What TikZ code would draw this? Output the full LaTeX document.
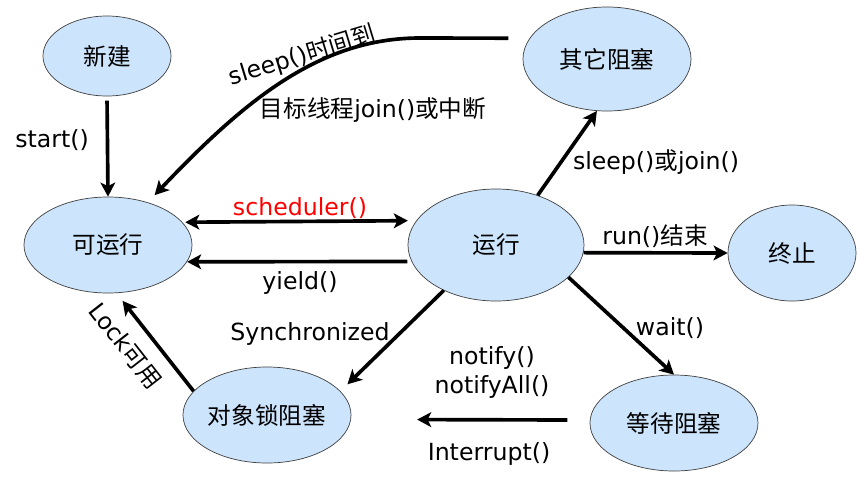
\documentclass[tikz,border=0pt]{standalone}
\usepackage{fontspec}
\setmainfont{DejaVu Sans}
\newfontfamily\cjk{Noto Sans CJK SC}
\usetikzlibrary{arrows.meta,shapes.geometric}
\def\zh#1{{\cjk #1}}
\definecolor{stateblue}{RGB}{204,228,252}

\begin{document}
\begin{tikzpicture}[x=0.025cm,y=-0.025cm,font=\fontsize{16.8}{20}\selectfont,
        >={Stealth[length=10pt,width=10.5pt,inset=2.5pt]},
        state/.style={ellipse,draw=black!75,line width=0.5pt,fill=stateblue,inner sep=0pt},
        arr/.style={line width=2.6pt,->}]
        \useasboundingbox (0,0) rectangle (857,482);
        \foreach \Px/\Py/\Name/\Text/\W/\H in {107/56/xj/新建/3.2/2.0, 108/245/ky/可运行/4.2/2.4,
                267/415/dxs/对象锁阻塞/4.2/2.4, 607/59/qt/其它阻塞/4.2/2.6, 496/245/run/运行/4.4/2.8,
                792/253/zz/终止/3.2/2.4, 674/423/ddzs/等待阻塞/4.2/2.4}
        \node[state,minimum width=\W cm,minimum height=\H cm] (\Name) at (\Px,\Py) {\zh{\Text}};
        \draw[arr,shorten <=3pt] (xj.south) -- (ky.north);
        \draw[arr,shorten <=15pt,shorten >=7pt] (qt.165) -- (420,38) .. controls (320,38) and (245,100) .. (ky.47);
        \draw[line width=2.6pt,<->,shorten <=2pt,shorten >=6pt] (ky.17) -- (run.163);
        \draw[arr,shorten <=3pt] (run.191) -- (ky.348);
        \draw[arr] (run.50) -- (qt.259);
        \draw[arr] (run.355) -- (zz.west);
        \draw[arr] (run.336) -- (ddzs.north);
        \draw[arr,shorten >=7pt] (run.221) -- (dxs.18);
        \draw[arr,shorten >=7pt] (dxs.162) -- (ky.280);
        \draw[arr,shorten <=16pt,shorten >=47pt] (ddzs.178) -- (dxs.357);
        \foreach \Px/\Py/\Label in {52/140/start(), 373/110/\zh{目标线程}join()\zh{或中断}, 300/283/yield(),
                310/334/Synchronized, 656/162/sleep()\zh{或}join(), 655/236/run()\zh{结束}, 670/328/wait(),
                492/358/notify(), 492/387/notifyAll(), 489/454/Interrupt()}
        \node at (\Px,\Py) {\Label};
        \node[red] at (300,208) {scheduler()};
        \node[rotate=17] at (302,56) {sleep()\zh{时间到}};
        \node[rotate=-52] at (125,346) {Lock\zh{可用}};
\end{tikzpicture}
\end{document}
